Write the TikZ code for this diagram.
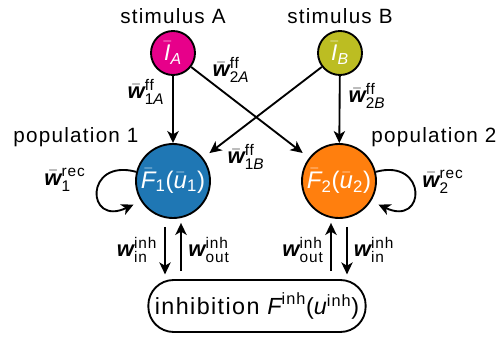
\documentclass[tikz,border=0pt]{standalone}
\usepackage{amsmath}
\usepackage{fontspec}
\setmainfont[LetterSpace=6]{Liberation Sans}
\usepackage{tikz}
\usetikzlibrary{arrows.meta, positioning}

\definecolor{stimA}{HTML}{E7008A}
\definecolor{stimB}{HTML}{BCBD22}
\definecolor{popone}{HTML}{1F77B4}
\definecolor{poptwo}{HTML}{FF7F0E}

\newcommand{\itx}[1]{\text{\itshape #1}}
\newcommand{\wbf}{\text{\bfseries\itshape w}}
\newcommand{\wbar}{\bar{\wbf}}

\begin{document}
\begin{tikzpicture}[x=0.75pt, y=-0.75pt, font=\fontsize{15.5}{18}\selectfont,
  stim/.style={circle, draw, line width=1.4pt, minimum size=33pt, inner sep=0pt, text=white,
    font=\fontsize{17}{20}\selectfont},
  pop/.style={circle, draw, line width=1.4pt, minimum size=55.5pt, inner sep=0pt, text=white,
    font=\fontsize{18}{20}\selectfont},
  weight/.style={font=\fontsize{16.5}{20}\selectfont},
  link/.style={-{Stealth[length=9pt, width=8.5pt, inset=2.5pt]}, line width=1.4pt}]
  \useasboundingbox (0,0) rectangle (501,338);
  % stimuli and populations
  \node[stim, fill=stimA] (IA) at (173,53) {$\bar{\itx{I}}_{\itx{A}}$};
  \node[stim, fill=stimB] (IB) at (340,53) {$\bar{\itx{I}}_{\itx{B}}$};
  \node[pop, fill=popone] (F1) at (173,181)
    {$\bar{\itx{F}}_{\text{1}}\text{(}\bar{\itx{u}}_{\text{1}}\text{)}$};
  \node[pop, fill=poptwo] (F2) at (339,181)
    {$\bar{\itx{F}}_{\text{2}}\text{(}\bar{\itx{u}}_{\text{2}}\text{)}$};
  \node[draw, line width=1.4pt, rounded corners=19pt, minimum width=163pt,
    minimum height=39pt, font=\fontsize{17.5}{20}\selectfont] (inh) at (257,306)
    {inhibition $\itx{F}^{\text{inh}}\text{(}\itx{u}^{\text{inh}}\text{)}$};
  % names
  \node (nameA) at (173,16) {stimulus A};
  \node (nameB) at (340,16) {stimulus B};
  \node (name1) at (76,137) {population 1};
  \node (name2) at (434,137) {population 2};
  % feed-forward
  \draw[link] (IA) -- (F1);
  \draw[link] (IB) -- (F2);
  \draw[link, shorten >=6pt] (IA) -- (F2);
  \draw[link, shorten >=6pt] (IB) -- (F1);
  \node[weight] (w1A) at (146,92) {$\wbar^{\text{ff}}_{\text{1\itshape A}}$};
  \node[weight] (w2A) at (231,70) {$\wbar^{\text{ff}}_{\text{2\itshape A}}$};
  \node[weight] (w1B) at (246,157) {$\wbar^{\text{ff}}_{\text{1\itshape B}}$};
  \node[weight] (w2B) at (367,96) {$\wbar^{\text{ff}}_{\text{2\itshape B}}$};
  % recurrent loops
  \draw[link, shorten >=6pt] (F1.166) .. controls +(-52,-14) and +(-55,26) .. (F1.212);
  \draw[link, shorten >=6pt] (F2.14) .. controls +(52,-14) and +(55,26) .. (F2.328);
  \node[weight] (w1rec) at (65,180) {$\wbar^{\text{rec}}_{\text{1}}$};
  \node[weight] (w2rec) at (443,182) {$\wbar^{\text{rec}}_{\text{2}}$};
  % inhibition
  \draw[link, shorten <=6pt, shorten >=3.5pt] ([xshift=-6pt]F1.south) -- ([xshift=-6pt]F1.south |- inh.north);
  \draw[link, shorten <=6pt, shorten >=3pt] ([xshift=6pt]F1.south |- inh.north) -- ([xshift=6pt]F1.south);
  \draw[link, shorten <=6pt, shorten >=3pt] ([xshift=-6pt]F2.south |- inh.north) -- ([xshift=-6pt]F2.south);
  \draw[link, shorten <=6pt, shorten >=3.5pt] ([xshift=6pt]F2.south) -- ([xshift=6pt]F2.south |- inh.north);
  \node[weight] (win1) at (137,250) {$\wbf^{\text{inh}}_{\text{in}}$};
  \node[weight] (wout1) at (209,250) {$\wbf^{\text{inh}}_{\text{out}}$};
  \node[weight] (wout2) at (303,250) {$\wbf^{\text{inh}}_{\text{out}}$};
  \node[weight] (win2) at (374,250) {$\wbf^{\text{inh}}_{\text{in}}$};
\end{tikzpicture}
\end{document}
